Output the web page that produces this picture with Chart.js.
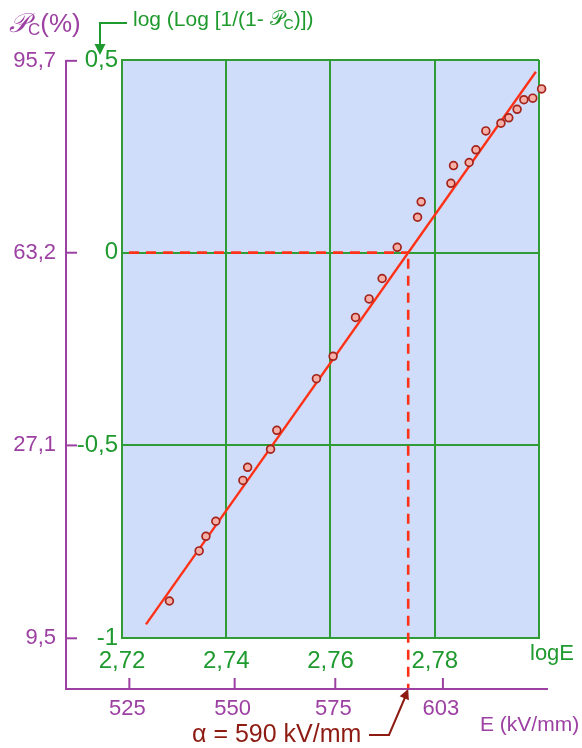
<!DOCTYPE html>
<html>
<head>
<meta charset="utf-8">
<script src="https://cdn.jsdelivr.net/npm/chart.js@4"></script>
<style>
  body { margin: 0; background: #fff; }
</style>
</head>
<body>
<canvas id="chart" width="582" height="748"></canvas>
<script>
// measured points: log E against log(Log[1/(1-Pc)])
const logE = [
  2.7291, 2.7348, 2.7361, 2.7380, 2.7432, 2.7441, 2.7485, 2.7497, 2.7573,
  2.7605, 2.7648, 2.7674, 2.7699, 2.7728, 2.7767, 2.7774, 2.7831, 2.7836,
  2.7866, 2.7879, 2.7898, 2.7927, 2.7942, 2.7958, 2.7971, 2.7988, 2.8005,
];
const weibull = [
  -0.904, -0.774, -0.736, -0.697, -0.591, -0.557, -0.510, -0.461, -0.327,
  -0.269, -0.168, -0.120, -0.067, 0.014, 0.092, 0.132, 0.180, 0.226,
  0.234, 0.267, 0.316, 0.336, 0.350, 0.372, 0.397, 0.401, 0.425,
];
// fitted straight line (two ends)
const fitLogE = [2.7246, 2.7994];
const fitWeibull = [-0.9646, 0.4696];

const xTicks = [2.72, 2.74, 2.76, 2.78, 2.8];
const xTickLabels = ["2,72", "2,74", "2,76", "2,78", ""];
const yTicks = [-1, -0.5, 0, 0.5];
const yTickLabels = ["-1", "-0,5", "0", "0,5"];
const percentTicks = [95.7, 63.2, 27.1, 9.5];
const percentLabels = ["95,7", "63,2", "27,1", "9,5"];
const fieldTicks = [525, 550, 575, 603];
const alphaLabel = "\u03b1 = 590 kV/mm";

const GREEN = "#1f9a2e";
const GRID = "#2f9c35";
const PURPLE = "#9c40a2";
const RED = "#ff3218";
const DARK_RED = "#8e1b12";
const FONT = "'Liberation Sans', Arial, sans-serif";
const SCRIPT_P = "\ud835\udcab";

// where the fitted line crosses 0 (63,2 %)
const slope = (fitWeibull[1] - fitWeibull[0]) / (fitLogE[1] - fitLogE[0]);
const alphaLogE = fitLogE[0] - fitWeibull[0] / slope;

const drawParts = (ctx, parts, x, y) => {
  ctx.textAlign = "left";
  ctx.textBaseline = "middle";
  parts.forEach((p) => {
    ctx.font = p.font;
    ctx.fillText(p.t, x, y + (p.dy || 0));
    x += ctx.measureText(p.t).width;
  });
};

const arrowHead = (ctx, x, y, angle, size) => {
  ctx.save();
  ctx.translate(x, y);
  ctx.rotate(angle);
  ctx.beginPath();
  ctx.moveTo(0, 0);
  ctx.lineTo(-size, -size * 0.5);
  ctx.lineTo(-size, size * 0.5);
  ctx.closePath();
  ctx.fill();
  ctx.restore();
};

const decor = {
  id: "decor",
  beforeDraw(chart) {
    const { ctx, chartArea: a } = chart;
    ctx.save();
    ctx.fillStyle = "#cfddfb";
    ctx.fillRect(a.left, a.top, a.right - a.left, a.bottom - a.top);
    ctx.restore();
  },
  afterDraw(chart) {
    const { ctx, chartArea: a, scales } = chart;
    const axisX = a.left - 56;
    const axisY = a.bottom + 51;
    ctx.save();

    // dashed line down to the E axis
    const xa = scales.x.getPixelForValue(alphaLogE);
    ctx.strokeStyle = RED;
    ctx.lineWidth = 2.6;
    ctx.setLineDash([10, 7]);
    ctx.beginPath();
    ctx.moveTo(xa, scales.y.getPixelForValue(0) + 6);
    ctx.lineTo(xa, axisY);
    ctx.stroke();
    ctx.setLineDash([]);

    // purple axes (Pc % and E)
    ctx.strokeStyle = PURPLE;
    ctx.fillStyle = PURPLE;
    ctx.lineWidth = 2;
    ctx.beginPath();
    ctx.moveTo(axisX, a.top);
    ctx.lineTo(axisX, axisY);
    ctx.lineTo(a.right + 9, axisY);
    ctx.stroke();

    ctx.font = "22px " + FONT;
    ctx.textAlign = "right";
    ctx.textBaseline = "middle";
    percentTicks.forEach((p, i) => {
      const y = scales.y.getPixelForValue(Math.log10(-Math.log(1 - p / 100)));
      ctx.beginPath();
      ctx.moveTo(axisX, y);
      ctx.lineTo(axisX + 11, y);
      ctx.stroke();
      ctx.fillText(percentLabels[i], axisX - 10, y);
    });

    ctx.textAlign = "center";
    fieldTicks.forEach((e) => {
      const x = scales.xE.getPixelForValue(Math.log10(e));
      ctx.beginPath();
      ctx.moveTo(x, axisY);
      ctx.lineTo(x, axisY - 11);
      ctx.stroke();
      ctx.fillText(String(e), x - 2, axisY + 20);
    });

    ctx.font = "21px " + FONT;
    ctx.textAlign = "left";
    ctx.fillText("E (kV/mm)", 480, 725);

    drawParts(ctx, [
      { t: SCRIPT_P, font: "italic 27px 'DejaVu Serif', 'DejaVu Sans', serif" },
      { t: "C", font: "17px " + FONT, dy: 5 },
      { t: "(%)", font: "26px " + FONT },
    ], 9, 25);

    // green title with elbow arrow
    ctx.fillStyle = GREEN;
    ctx.strokeStyle = GREEN;
    drawParts(ctx, [
      { t: "log (Log [1/(1- ", font: "21px " + FONT },
      { t: SCRIPT_P, font: "20px 'DejaVu Serif', 'DejaVu Sans', serif" },
      { t: "C", font: "14px " + FONT, dy: 5 },
      { t: ")])", font: "21px " + FONT },
    ], 133, 20);
    ctx.beginPath();
    ctx.moveTo(127, 23);
    ctx.lineTo(100, 23);
    ctx.lineTo(100, 46);
    ctx.stroke();
    arrowHead(ctx, 100, 55, Math.PI / 2, 11);

    ctx.font = "22px " + FONT;
    ctx.textAlign = "left";
    ctx.fillText("logE", 530, 654);

    // alpha label
    ctx.fillStyle = DARK_RED;
    ctx.strokeStyle = DARK_RED;
    ctx.font = "25px " + FONT;
    ctx.fillText(alphaLabel, 192, 735);
    ctx.beginPath();
    ctx.moveTo(369, 735);
    ctx.lineTo(389, 735);
    ctx.lineTo(xa - 3, axisY + 8);
    ctx.stroke();
    arrowHead(ctx, xa, axisY, Math.atan2(axisY + 8 - 735, xa - 3 - 389), 10);

    ctx.restore();
  },
};

const ctx = document.getElementById("chart");
const chart = new Chart(ctx, {
  type: "scatter",
  data: {
    datasets: [
      {
        data: logE.map((x, i) => ({ x: x, y: weibull[i] })),
        pointRadius: 3.9,
        pointBackgroundColor: "#f6b0a8",
        pointBorderColor: "#a3221a",
        pointBorderWidth: 1.7,
        clip: false,
      },
      {
        data: fitLogE.map((x, i) => ({ x: x, y: fitWeibull[i] })),
        showLine: true,
        borderColor: RED,
        borderWidth: 2.4,
        pointRadius: 0,
      },
      {
        data: [
          { x: xTicks[0], y: 0 },
          { x: alphaLogE, y: 0 },
        ],
        showLine: true,
        borderColor: RED,
        borderWidth: 2.6,
        borderDash: [10, 7],
        borderDashOffset: 10,
        pointRadius: 0,
      },
    ],
  },
  options: {
    responsive: false,
    animation: false,
    layout: { padding: { top: 60, right: 43, left: 0, bottom: 0 } },
    plugins: {
      legend: { display: false },
      tooltip: { enabled: false },
    },
    scales: {
      x: {
        type: "linear",
        min: 2.72,
        max: 2.8,
        afterFit: (scale) => {
          scale.height = 110;
        },
        afterBuildTicks: (scale) => {
          scale.ticks = xTicks.map((v) => ({ value: v }));
        },
        grid: { color: GRID, lineWidth: 2, drawTicks: false },
        border: { color: GRID, width: 2 },
        ticks: {
          color: GREEN,
          padding: 9,
          font: { family: FONT, size: 24 },
          callback: (v) => xTickLabels[xTicks.indexOf(v)],
        },
      },
      xE: {
        type: "linear",
        display: false,
        min: 2.71875,
        max: 2.79875,
      },
      y: {
        type: "linear",
        min: -1,
        max: 0.5,
        afterFit: (scale) => {
          scale.width = 122;
        },
        afterBuildTicks: (scale) => {
          scale.ticks = yTicks.map((v) => ({ value: v }));
        },
        grid: { color: GRID, lineWidth: 2, drawTicks: false },
        border: { color: GRID, width: 2 },
        ticks: {
          color: GREEN,
          padding: 4,
          font: { family: FONT, size: 24 },
          callback: (v) => yTickLabels[yTicks.indexOf(v)],
        },
      },
    },
  },
  plugins: [decor],
});
</script>
</body>
</html>
